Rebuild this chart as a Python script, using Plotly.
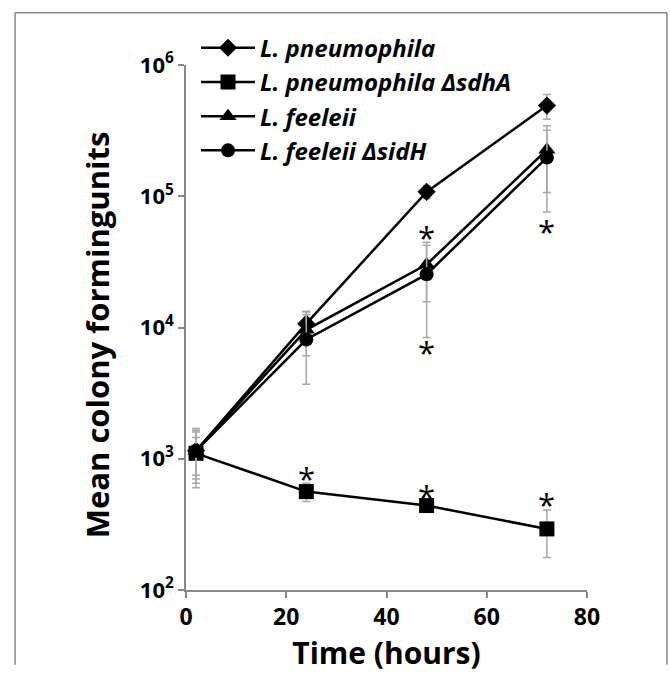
import math
import plotly.graph_objects as go

# ---- data ----
times = [2, 24, 48, 72]

lp_wt = [1150, 10700, 108000, 491000]
lp_wt_err = [450, 2600, 12000, 105000]

lp_sdhA = [1100, 562, 440, 292]
lp_sdhA_err = [350, 90, 35, 115]

lf_wt = [1150, 9600, 30200, 226000]
lf_wt_err = [500, 3500, 14500, 119000]

lf_sidH = [1150, 8100, 25400, 197000]
lf_sidH_err = [550, 4400, 17000, 121000]

series_names = [
    "<b><i>L. pneumophila</i></b>",
    "<b><i>L. pneumophila \u0394sdhA</i></b>",
    "<b><i>L. feeleii</i></b>",
    "<b><i>L. feeleii \u0394sidH</i></b>",
]

# significance asterisks (time, value)
star_t = [24, 48, 72, 48, 48, 72]
star_v = [832, 610, 525, 56900, 7600, 64100]

y_tickvals = [1e2, 1e3, 1e4, 1e5, 1e6]
y_ticktext = ["10<sup>2</sup>", "10<sup>3</sup>", "10<sup>4</sup>", "10<sup>5</sup>", "10<sup>6</sup>"]
x_tickvals = [0, 20, 40, 60, 80]

FONT = "Open Sans"

fig = go.Figure()

specs = [
    (lp_wt, lp_wt_err, "diamond", 14),
    (lp_sdhA, lp_sdhA_err, "square", 15),
    (lf_wt, lf_wt_err, "triangle-up", 15),
    (lf_sidH, lf_sidH_err, "circle", 14),
]
for name, (vals, errs, sym, size) in zip(series_names, specs):
    fig.add_trace(go.Scatter(
        x=times, y=vals, name=name, mode="lines+markers",
        line=dict(color="black", width=2.5),
        marker=dict(symbol=sym, size=size, color="black"),
        error_y=dict(type="data", array=errs, color="#a8a8a8", thickness=1.5, width=4),
        hoverinfo="skip",
    ))

for t, v in zip(star_t, star_v):
    fig.add_annotation(
        x=t, y=math.log10(v), yref="y", xref="x", text="*", showarrow=False,
        font=dict(family=FONT, size=31, color="black"), yshift=-9,
    )

# y-axis title as annotation (slightly below plot centre, as in the reference)
fig.add_annotation(
    xref="paper", yref="paper", x=-0.222, y=0.487, text="<b>Mean colony formingunits</b>",
    textangle=-90, showarrow=False, xanchor="center", yanchor="middle",
    font=dict(family=FONT, size=31, color="black"),
)

# outer frame (left, top, right edges; bottom edge lies below the page)
frame_style = dict(color="#888888", width=1.5)
fig.add_shape(type="line", xref="paper", yref="paper", x0=-0.4264, x1=-0.4264,
              y0=-0.1423, y1=1.0993, line=frame_style, layer="below")
fig.add_shape(type="line", xref="paper", yref="paper", x0=1.1995, x1=1.1995,
              y0=-0.1423, y1=1.0993, line=frame_style, layer="below")
fig.add_shape(type="line", xref="paper", yref="paper", x0=-0.4264, x1=1.1995,
              y0=1.0993, y1=1.0993, line=frame_style, layer="below")

fig.update_layout(
    width=670, height=675,
    margin=dict(l=186, r=83, t=65, b=76),
    paper_bgcolor="white", plot_bgcolor="white",
    font=dict(family=FONT, color="black"),
    showlegend=True,
    legend=dict(
        x=0.025, y=1.075, xanchor="left", yanchor="top",
        font=dict(family=FONT, size=24, color="black"),
        bgcolor="rgba(0,0,0,0)", itemwidth=54,
    ),
    xaxis=dict(
        range=[0, 80], tickvals=x_tickvals, ticks="outside", ticklen=6,
        tickcolor="#888888", tickwidth=1.5, showline=True, linecolor="#888888",
        linewidth=1.5, showgrid=False, zeroline=False,
        tickfont=dict(family=FONT, size=23, color="black", weight="bold"),
        title=dict(text="<b>Time (hours)</b>", font=dict(family=FONT, size=30, color="black"),
                   standoff=10),
    ),
    yaxis=dict(
        type="log", range=[2, 6], tickvals=y_tickvals, ticktext=y_ticktext,
        ticks="outside", ticklen=6, tickcolor="#888888", tickwidth=1.5,
        showline=True, linecolor="#888888", linewidth=1.5, showgrid=False, zeroline=False,
        tickfont=dict(family=FONT, size=22, color="black", weight="bold"),
    ),
)

fig.write_html("out.html", config={"displayModeBar": False},
               post_script="document.body.style.margin='0';")
